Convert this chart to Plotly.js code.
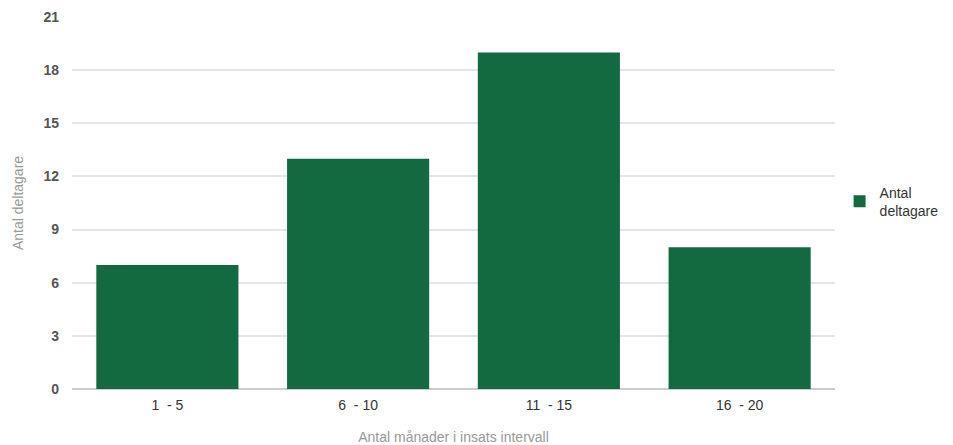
<!DOCTYPE html>
<html><head><meta charset="utf-8">
<script src="https://cdn.plot.ly/plotly-3.0.1.min.js"></script>
<style>html,body{margin:0;padding:0;background:#fff}#c{width:953px;height:445px}</style>
</head><body><div id="c"></div>
<script>
var categories = ["1  - 5", "6  - 10", "11  - 15", "16  - 20"];
var values = [7, 13, 19, 8];
var seriesName = "Antal<br>deltagare";
var yTicks = [0, 3, 6, 9, 12, 15, 18, 21];

Plotly.newPlot("c", [{
  type: "bar", x: categories, y: values, name: seriesName,
  marker: {color: "#146a40"}, showlegend: true, hoverinfo: "skip"
}], {
  width: 953, height: 445,
  margin: {l: 72, r: 118, t: 17, b: 56},
  paper_bgcolor: "#fff", plot_bgcolor: "#fff",
  font: {family: "Liberation Sans, Arial, sans-serif", color: "#444"},
  bargap: 0.255,
  showlegend: true,
  legend: {xref: "container", yref: "container", x: 0.881, xanchor: "left", y: 0.547, yanchor: "middle",
    font: {size: 14, color: "#333"}, itemwidth: 30, tracegroupgap: 0},
  xaxis: {type: "category", showgrid: false, showline: false, zeroline: false,
    ticks: "", ticklabelstandoff: 6, tickfont: {size: 14, color: "#333"},
    title: {text: "Antal månader i insats intervall", font: {size: 14, color: "#999"}, standoff: 22}},
  yaxis: {range: [0, 21], tickvals: yTicks, showgrid: true, gridcolor: "#e2e6ec", gridwidth: 2,
    zeroline: true, zerolinecolor: "#cccccc", zerolinewidth: 2, showline: false,
    ticks: "", ticklabelstandoff: 12,
    tickfont: {size: 14, color: "#555", weight: "bold"},
    title: {text: "Antal deltagare", font: {size: 14, color: "#999"}, standoff: 16}}
}, {displayModeBar: false, staticPlot: true});
</script></body></html>
